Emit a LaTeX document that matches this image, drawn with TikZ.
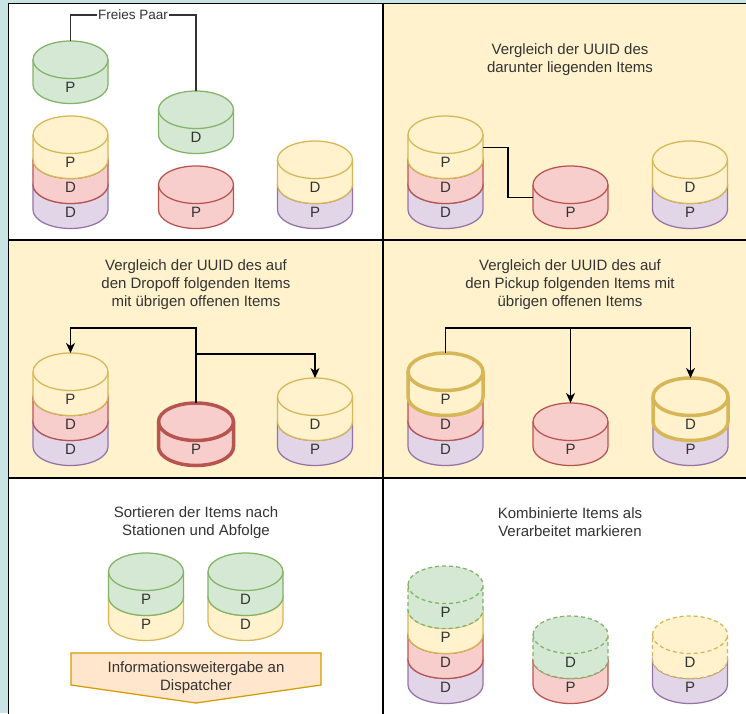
\documentclass[tikz,border=0pt]{standalone}
\usepackage{fontspec}
\setmainfont{Liberation Sans}
\usetikzlibrary{arrows.meta,calc}
\definecolor{gfill}{HTML}{D5E8D4}\definecolor{gline}{HTML}{82B366}
\definecolor{yfill}{HTML}{FFF2CC}\definecolor{yline}{HTML}{D6B656}
\definecolor{rfill}{HTML}{F8CECC}\definecolor{rline}{HTML}{B85450}
\definecolor{pfill}{HTML}{E1D5E7}\definecolor{pline}{HTML}{9673A6}
\definecolor{ofill}{HTML}{FFE6CC}\definecolor{oline}{HTML}{D79B00}
\definecolor{outerbg}{HTML}{C8E4E4}
\definecolor{panelbg}{HTML}{FFF2CC}
\definecolor{txt}{HTML}{333333}
\tikzset{
  cylbox/.style={inner sep=0pt, outer sep=0pt, minimum width=75pt, minimum height=62.5pt},
  cylline/.style={line width=1.25pt},
  cyltext/.style={text=txt, inner sep=0pt, font=\fontsize{15pt}{18pt}\selectfont},
  ptext/.style={text=txt, align=center, inner sep=0pt, font=\fontsize{15pt}{18pt}\selectfont},
  bold/.style={line width=3.5pt},
  dashedcyl/.style={dash pattern=on 4pt off 3pt},
  conn/.style={draw=black, line width=1.25pt, -{Stealth[length=10pt, width=9pt, inset=3pt]}},
  plainconn/.style={draw=txt, line width=1.25pt},
  panel/.style={draw=black, line width=1.5pt}
}
% name, cx, top, colour prefix, label, extra style
\newcommand{\Cyl}[6]{%
  \node[cylbox] (#1) at (#2,#3+31.25) {};
  \path[draw=#4line, fill=#4fill, cylline, #6]
    (#2-37.5,#3+18.75) arc[start angle=180, end angle=0, x radius=37.5pt, y radius=18.75pt]
    -- (#2+37.5,#3+43.75) arc[start angle=0, end angle=-180, x radius=37.5pt, y radius=18.75pt] -- cycle;
  \path[draw=#4line, cylline, #6] (#2-37.5,#3+18.75)
    arc[start angle=180, end angle=360, x radius=37.5pt, y radius=18.75pt];
  \node[cyltext] (#1-t) at (#2,#3+46.5) {#5};
}
\begin{document}
\begin{tikzpicture}[x=1pt, y=-1pt]
\useasboundingbox (0,0) rectangle (746,713);
\clip (0,0) rectangle (746,713);
\fill[outerbg] (0,0) rectangle (746,713);
% panels
\path[panel, fill=white]   (8.5,3.5) rectangle (383,240);
\path[panel, fill=panelbg] (383,3.5) rectangle (760,240);
\path[panel, fill=panelbg] (8.5,240) rectangle (383,478);
\path[panel, fill=panelbg] (383,240) rectangle (760,478);
\path[panel, fill=white]   (8.5,478) rectangle (383,720);
\path[panel, fill=white]   (383,478) rectangle (760,720);

% ---------- panel 1
\Cyl{a1}{70.5}{41}{g}{P}{}
\Cyl{a2}{196}{91}{g}{D}{}
\Cyl{a3p}{70.5}{166}{p}{D}{}
\Cyl{a3r}{70.5}{141}{r}{D}{}
\Cyl{a3y}{70.5}{116}{y}{P}{}
\Cyl{a4}{196}{166}{r}{P}{}
\Cyl{a5p}{315}{166}{p}{P}{}
\Cyl{a5y}{315}{141}{y}{D}{}
\node[text=txt, fill=white, inner sep=1pt, font=\fontsize{13.5pt}{16pt}\selectfont] (fp) at (133,15) {Freies Paar};
\draw[plainconn] (a1.north) |- (fp.west);
\draw[plainconn] (fp.east) -| (a2.north);

% ---------- panel 2
\node[ptext] (t2) at (570,60) {Vergleich der UUID des\\darunter liegenden Items};
\Cyl{b1p}{445.5}{166}{p}{D}{}
\Cyl{b1r}{445.5}{141}{r}{D}{}
\Cyl{b1y}{445.5}{116}{y}{P}{}
\Cyl{b4}{570.5}{166}{r}{P}{}
\Cyl{b5p}{690}{166}{p}{P}{}
\Cyl{b5y}{690}{141}{y}{D}{}
\draw[line width=1.25pt] (b1y.east) -| ($(b1y.east)!.5!(b4.west)$) |- (b4.west);

% ---------- panel 3
\node[ptext] (t3) at (196,285) {Vergleich der UUID des auf\\den Dropoff folgenden Items\\mit übrigen offenen Items};
\Cyl{c1p}{70.5}{403}{p}{D}{}
\Cyl{c1r}{70.5}{378}{r}{D}{}
\Cyl{c1y}{70.5}{353}{y}{P}{}
\Cyl{c4}{196}{403}{r}{P}{bold}
\Cyl{c5p}{315}{403}{p}{P}{}
\Cyl{c5y}{315}{378}{y}{D}{}
\draw[conn] (c4.north) -- ++(0,-75) -| (c1y.north);
\draw[conn] (c4.north) -- ++(0,-49) -| (c5y.north);

% ---------- panel 4
\node[ptext] (t4) at (570,285) {Vergleich der UUID des auf\\den Pickup folgenden Items mit\\übrigen offenen Items};
\Cyl{d1p}{445.5}{403}{p}{D}{}
\Cyl{d1r}{445.5}{378}{r}{D}{}
\Cyl{d1y}{445.5}{353}{y}{P}{bold}
\Cyl{d4}{570.5}{403}{r}{P}{}
\Cyl{d5p}{690.5}{403}{p}{P}{}
\Cyl{d5y}{690.5}{378}{y}{D}{bold}
\draw[conn] (d1y.north) -- ++(0,-25) -| (d4.north);
\draw[conn] (d1y.north) -- ++(0,-25) -| (d5y.north);

% ---------- panel 5
\node[ptext] (t5) at (196,522.5) {Sortieren der Items nach\\Stationen und Abfolge};
\Cyl{e1y}{146}{578}{y}{P}{}
\Cyl{e1g}{146}{553}{g}{P}{}
\Cyl{e2y}{245.5}{578}{y}{D}{}
\Cyl{e2g}{245.5}{553}{g}{D}{}
\draw[draw=oline, fill=ofill, line width=1.25pt] (71,653) -- (321,653) -- (321,685) -- (196,703) -- (71,685) -- cycle;
\node[ptext] (disp) at (196,677.5) {Informationsweitergabe an\\Dispatcher};

% ---------- panel 6
\node[ptext] (t6) at (570,522.5) {Kombinierte Items als\\Verarbeitet markieren};
\Cyl{f1p}{445.5}{641}{p}{D}{}
\Cyl{f1r}{445.5}{616}{r}{D}{}
\Cyl{f1y}{445.5}{591}{y}{P}{}
\Cyl{f1g}{445.5}{566}{g}{P}{dashedcyl}
\Cyl{f2r}{570.5}{641}{r}{P}{}
\Cyl{f2g}{570.5}{616}{g}{D}{dashedcyl}
\Cyl{f3p}{690}{641}{p}{P}{}
\Cyl{f3y}{690}{616}{y}{D}{dashedcyl}
\end{tikzpicture}
\end{document}
